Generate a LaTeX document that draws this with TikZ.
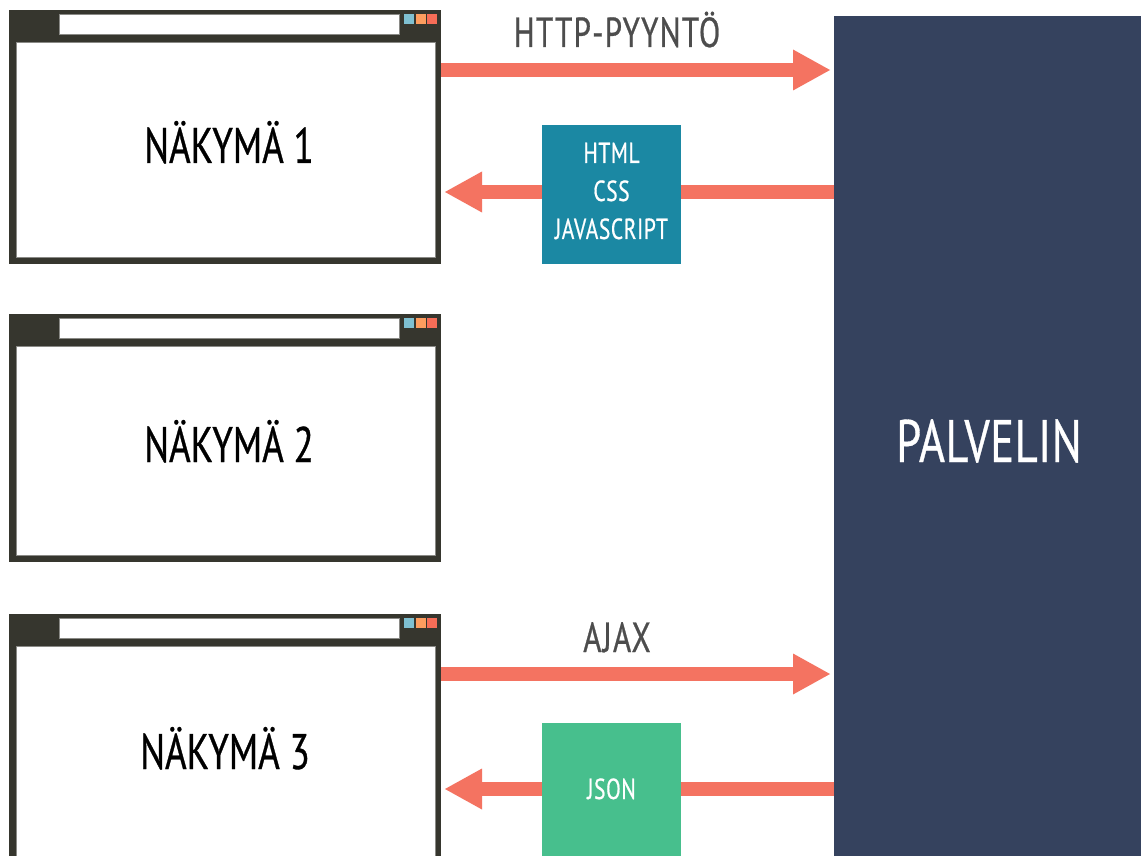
\documentclass[tikz,border=0pt]{standalone}
\usepackage{fontspec}
\setmainfont{PT Sans}[FakeStretch=0.74, FakeBold=0.6]
\usetikzlibrary{arrows.meta}
\definecolor{windark}{HTML}{36362E}
\definecolor{arrowred}{HTML}{F47361}
\definecolor{srvblue}{HTML}{35425E}
\definecolor{tealbox}{HTML}{1B88A3}
\definecolor{greenbox}{HTML}{47BF8D}
\definecolor{sqblue}{HTML}{7FC0D1}
\definecolor{sqorange}{HTML}{FD9D5F}
\definecolor{sqred}{HTML}{F76D57}
\definecolor{labgrey}{HTML}{4D4D4D}
\definecolor{bargrey}{HTML}{8A8A86}
\tikzset{
  winframe/.style={fill=windark, inner sep=0pt, outer sep=0pt, anchor=north west},
  wininner/.style={fill=white, draw=bargrey, line width=0.6pt, inner sep=0pt, outer sep=0pt, anchor=north west},
  winbar/.style={fill=white, draw=bargrey, line width=0.8pt, inner sep=0pt, outer sep=0pt, anchor=north west, minimum width=340pt, minimum height=20pt},
  winsq/.style={inner sep=0pt, outer sep=0pt, anchor=north west, minimum width=10pt, minimum height=10pt},
  flow/.style={draw=arrowred, line width=14pt, -{Triangle[length=37pt 0 0, width=41pt 0 0, line width=0pt 0 0, round=false]}},
  payload/.style={inner sep=0pt, outer sep=0pt, minimum width=139pt, minimum height=139pt},
  payloadtext/.style={inner sep=0pt, text=white, font=\fontsize{29}{38}\selectfont\addfontfeature{LetterSpace=2}, align=center},
  viewlabel/.style={anchor=base, inner sep=0pt, font=\fontsize{50}{50}\selectfont, text=black},
  reqlabel/.style={anchor=base, inner sep=0pt, font=\fontsize{42}{42}\selectfont\addfontfeature{LetterSpace=3}, text=labgrey},
}
\newcommand\browserwin[3]{% name, top y, height
  \node[winframe, minimum width=432pt, minimum height=#3pt] (#1) at (9,#2) {};
  \node[wininner, minimum width=419pt, minimum height=#3pt-39pt] (#1-in) at (16,#2+32) {};
  \node[winbar] (#1-bar) at (59,#2+4) {};
  \node[winsq, fill=sqblue] (#1-s1) at (404,#2+4) {};
  \node[winsq, fill=sqorange] (#1-s2) at (415.5,#2+4) {};
  \node[winsq, fill=sqred] (#1-s3) at (427,#2+4) {};
}
\begin{document}
\begin{tikzpicture}[x=1pt,y=-1pt]
\useasboundingbox (0,0) rectangle (1141,856);
\fill[white] (0,0) rectangle (1141,856);

% server
\node[fill=srvblue, inner sep=0pt, outer sep=0pt, minimum width=310pt, minimum height=850pt,
      text=white, font=\fontsize{60}{60}\selectfont\addfontfeature{LetterSpace=1}] (srv) at (989,441) {PALVELIN};

% browser windows
\browserwin{w1}{10}{254}
\browserwin{w2}{314}{248}
\browserwin{w3}{614}{254}

\node[viewlabel] (v1) at (229,163) {NÄKYMÄ 1};
\node[viewlabel] (v2) at (229,462) {NÄKYMÄ 2};
\node[viewlabel] (v3) at (225,769) {NÄKYMÄ 3};

% request / response rows
\coordinate (r1) at (0,70);
\coordinate (r2) at (0,192);
\coordinate (r3) at (0,674);
\coordinate (r4) at (0,789);

\draw[flow] (w1.east |- r1) -- ([xshift=-4pt]srv.west |- r1);
\node[reqlabel] (l1) at (617,47) {HTTP-PYYNTÖ};
\draw[flow] (srv.west |- r2) -- ([xshift=4pt]w1.east |- r2);
\node[payload, fill=tealbox] (p1) at (611.5,194.5) {};
\node[payloadtext] (p1t) at (611.5,191) {HTML\\CSS\\JAVASCRIPT};

\draw[flow] (w3.east |- r3) -- ([xshift=-4pt]srv.west |- r3);
\node[reqlabel] (l2) at (617,652) {AJAX};
\draw[flow] (srv.west |- r4) -- ([xshift=4pt]w3.east |- r4);
\node[payload, fill=greenbox] (p2) at (611.5,792.5) {};
\node[payloadtext, anchor=base] (p2t) at (611.5,799) {JSON};
\end{tikzpicture}
\end{document}
